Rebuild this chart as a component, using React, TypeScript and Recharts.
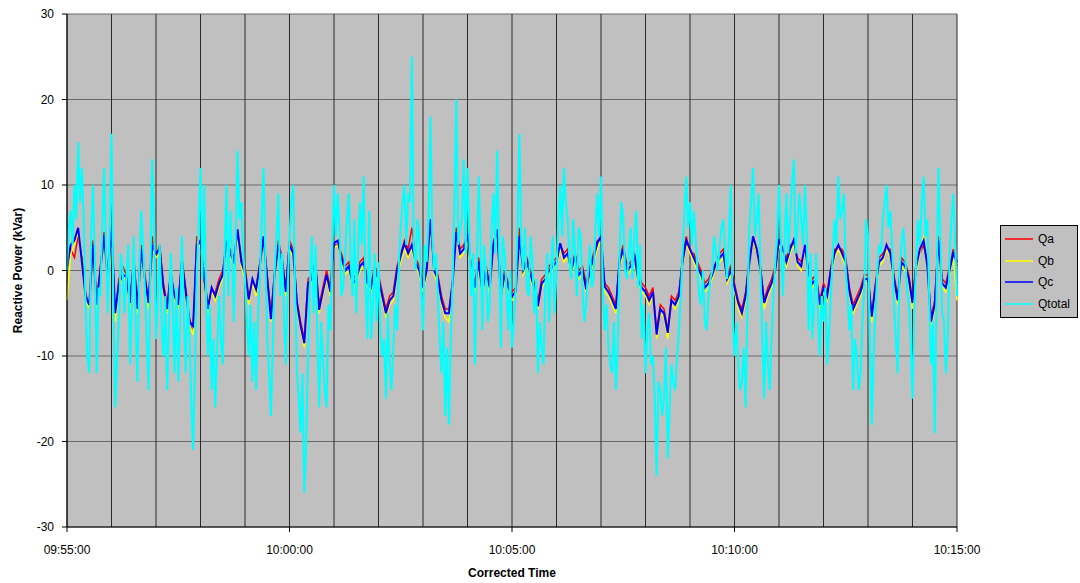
import { LineChart, Line, XAxis, YAxis, CartesianGrid, Label } from 'recharts';

// phase samples every 5 s from 09:55:00 to 10:15:00 (one row = one minute)
const SAMPLE_SEC = 5;

const qTotal = [
  0, 7, 10, 15, 12, -4, -12, 10, -12, -3, 12, -5,
  16, -16, -6, 0, -1, -11, 4, -13, 7, -2, -14, 13,
  -8, 3, -10, -14, 2, -12, -13, 4, -12, -7, -21, 0,
  12, 10, -10, -14, -16, -3, -11, 10, 7, -6, 14, 8,
  -1, -10, -13, -14, -1, 12, -8, -17, 0, 9, 2, -11,
  4, 10, -12, -19, -26, -10, 4, 3, -16, -10, -16, -7,
  10, 9, -3, 2, 9, -3, -5, 8, 11, -8, -8, 2,
  1, -10, -15, -11, -9, -7, 5, 10, 9, 25, 0, 4,
  -7, 1, 18, 0, -3, -12, -17, -18, -1, 20, 5, 13,
  12, -3, -11, 11, -7, 0, -4, 9, 14, -9, 2, -7,
  -9, -2, 16, 0, -2, 4, -5, -12, -9, -2, -6, 4,
  0, 10, 12, 6, -1, 2, 5, -2, -4, 3, -1, 9,
  11, -7, -9, -12, -14, 2, 6, -1, 5, 4, -2, -8,
  -12, -5, -10, -24, -14, -15, -22, -11, -14, -7, 2, 11,
  8, 7, 0, -4, -6, -3, 0, 2, 3, 6, -1, 10,
  -10, -11, -13, -16, 5, 12, 6, 0, -15, -11, -8, 1,
  10, -3, 9, 6, 13, 5, 6, 10, -7, -8, 2, -10,
  -6, -11, -3, 6, 11, 7, 0, -7, -14, -10, -12, -2,
  4, -18, -5, 3, 6, 10, 7, -4, -12, 3, 2, -4,
  -15, 1, 3, 11, 6, -11, -19, 12, -5, -12, 2, 9,
  -3,
];

// Qtotal readings half-way between the 5 s samples (t = 2.5, 7.5, ...)
const qTotalMid = [
  5, 3, 6, 8, 6, -10, 4, 2, -2, 5, 3, 4,
  -4, -10, 2, -5, 3, -4, -6, 0, 3, -8, 0, 5,
  -3, -6, -3, -6, -4, -2, -6, -5, -3, -15, -12, 5,
  -1, -3, -4, -8, -9, -8, 2, -3, 3, 4, 6, 2,
  -6, -4, -6, -5, 6, 1, -12, -9, 4, -3, -5, -2,
  8, -2, -15, -12, -20, -2, -5, -8, -6, -14, -4, 2,
  4, 5, -2, 6, 1, 6, 2, 3, -2, 7, -4, -6,
  -7, -8, -5, -14, -4, 1, 8, 3, 8, 3, 6, -2,
  3, 6, 4, 2, -8, -6, -9, -8, 8, 3, 6, 2,
  4, 2, 0, 4, 3, -6, 5, 2, 3, 4, -2, 0,
  -6, 5, 3, 5, -3, 1, -1, -6, -11, 2, 0, -5,
  6, 4, 8, 1, 6, -3, 4, -6, 0, -2, 5, 4,
  -2, -4, -11, -6, -9, 8, 0, 2, -1, 7, 3, -4,
  -7, -11, -15, -13, -17, -9, -16, -13, -10, -3, 7, 5,
  3, 4, -3, 0, -7, -1, 4, 0, 5, 2, 4, -5,
  -6, -14, -9, -4, 8, 4, 9, -8, -6, -14, -3, 4,
  4, 3, 2, 10, 2, 9, 3, 4, 2, -4, -5, -3,
  -2, -7, 2, 3, 6, 9, -3, -4, -8, -14, -6, 6,
  -8, -10, 0, 2, 8, 5, 3, -8, 0, 5, -2, -8,
  -4, 6, 8, 4, -3, -6, -2, 4, -6, -8, 6, 3,
];

const qc = [
  0.5, 3, 3.5, 5, 1, -3, -4, 3, -4, 0, 4, -1,
  5, -5, -1.5, -0.5, -0.7, -3.8, 1, -4.5, 2.5, -1, -3.8, 3,
  2, 2.5, -2, -4.5, -0.5, -3, -4, 1, -2.5, -6, -6.5, 3,
  3.5, -1, -4.5, -2, -3, -1.5, -0.5, 3.5, 2, 1, 4.8, 1,
  -0.3, -3.4, -1, -2.2, 0.5, 4, -1, -5.7, -0.5, 3, 1, -2.5,
  3, 2, -3.8, -6.5, -8.5, -1.5, -1, 0.5, -4.6, -2.5, -0.5, -2.5,
  3.2, 3.5, 1.5, 0, 0.5, -1.5, -1, 0.5, 1, -1.5, -2, 0,
  -1, -3, -5, -3.5, -3, 0, 1.7, 3.2, 2, 3, 1, 0,
  -2, 0, 6, 0, -1, -3.5, -5, -5, -1.5, 4.5, 2, 2.5,
  4.4, 0, -2, 1, -2.5, 0, -2, 3, 4.8, -3, -0.5, -2,
  -3, -2.5, 4, 0, 1, -0.5, -2, -4.2, -1.5, -1, 0, 0.5,
  1, 3.2, 1.5, 2, 0, 1.7, -0.5, 0, -2.2, 0, 1.5, 3.2,
  4, -1.9, -2.5, -3.4, -4.5, 1, 2.5, 0, 0.5, 1.7, -1, -2,
  -2.5, -3.5, -2.5, -7.5, -4.5, -5, -7.3, -3.5, -4, -3, 1, 3.5,
  2.5, 1.5, 0.5, -0.5, -2, -1.5, -0.5, 0.8, 1.5, 2, -1, 0,
  -2, -3.8, -5, -3, 0.8, 4, 2.5, 0, -3.8, -2.5, -1.5, 0,
  3.6, 2.5, 1, 2.5, 3.6, 1, 0.5, 3, -0.5, -1.5, -1, -4,
  -2, -3, 0, 2, 3, 2, 1, -2.5, -4.5, -3.5, -2.5, -1,
  -1, -5.4, -2, 1, 1.5, 3, 2, -1, -3.5, 1, 0.5, -1,
  -3.8, 0.5, 2.5, 3.5, 0.5, -6, -4, 3.5, -1.5, -2, 0, 2,
  1,
];

const qa = [
  0, 2.5, 1.5, 4, 1.5, -2.5, -4.5, 3.5, -3.5, 0.5, 4.5, -0.5,
  4.5, -5.5, -1, 0.5, -0.5, -3.5, 1.5, -4, 3, -0.5, -3.5, 4,
  1.5, 3, -1.5, -4, 0, -3.5, -3.5, 1.5, -2, -5.5, -7, 4,
  3, -0.5, -4, -2.5, -2.5, -1, 0, 3, 2.5, 1.5, 4.5, 1.5,
  0.5, -3, -1.5, -2, 1, 3.5, -0.5, -5, 0, 3.5, 1.5, -2,
  3.5, 2.5, -3.5, -6, -8, -1, -0.5, 1, -4, -2, 0, -2,
  3, 3, 2, 0.5, 1, -1, -0.5, 1, 1.5, -1, -1.5, 0.5,
  -0.5, -2.5, -4.5, -3, -2.5, 0.5, 2, 3.5, 2.5, 5, 1.5, 0.5,
  -1.5, 0.5, 5.5, 0.5, -0.5, -3, -4.5, -4.5, -1, 5, 2.5, 3,
  4, 0.5, -1.5, 1.5, -2, 0.5, -1.5, 3.5, 4.5, -2.5, 0, -1.5,
  -2.5, -2, 5, 0.5, 1.5, 0, -1.5, -3.5, -1, -0.5, 0.5, 1,
  1.5, 3, 2, 2.5, 0.5, 2, 0, 0.5, -1.5, 0.5, 2, 3.5,
  3.5, -1.5, -2, -3, -4, 1.5, 3, 0.5, 1, 2, 0, -1.5,
  -2, -3, -2, -7, -4, -4.5, -7, -3, -3.5, -2.5, 1.5, 4,
  2, 2, 1, 0, -1.5, -1, 0, 1, 2, 2.5, -0.5, 0.5,
  -1.5, -3.5, -4.5, -2.5, 1.5, 3.5, 2, 0.5, -3.5, -2, -1, 0.5,
  3, 2, 1.5, 3, 3, 1.5, 1, 2.5, 0, -1, -0.5, -3.5,
  -1.5, -2.5, 0.5, 2.5, 2.5, 2.5, 1.5, -2, -4, -3, -2, -0.5,
  -0.5, -5, -1.5, 1.5, 2, 2.5, 2.5, -0.5, -3, 1.5, 1, -0.5,
  -3.5, 1, 2, 3, 1, -5.5, -3.5, 4, -1, -1.5, 0.5, 2.5,
  0.5,
];

const qb = [
  -3.5, 2, 3, 4.5, 0.5, -3.5, -4.5, 2.5, -4.5, -0.5, 3.5, -1.5,
  4, -6, -2, -1, -1, -4.5, 0.5, -5, 2, -1.5, -4.5, 2.5,
  1.5, 2, -2.5, -5, -1, -3.5, -4.5, 0.5, -3, -6.5, -7.5, 2.5,
  3, -1.5, -5, -2.5, -3.5, -2, -1, 3, 1.5, 0.5, 4, 0.5,
  -1, -4, -1.5, -3, 0, 3.5, -1.5, -6, -1, 2.5, 0.5, -3,
  2.5, 1.5, -4.5, -7, -9, -2, -1.5, 0, -5, -3, -1, -3,
  2.5, 3, 1, -0.5, 0, -2, -1.5, 0, 0.5, -2, -2.5, -0.5,
  -1.5, -3.5, -5.5, -4, -3.5, -0.5, 1, 2.5, 1.5, 2.5, 0.5, -0.5,
  -2.5, -0.5, 5, -0.5, -1.5, -4, -5.5, -6, -2, 4, 1.5, 2,
  3.5, -0.5, -2.5, 0.5, -3, -0.5, -2.5, 2.5, 4, -3.5, -1, -2.5,
  -3.5, -3, 3.5, -0.5, 0.5, -1, -2.5, -4.5, -2, -1.5, -0.5, 0,
  0.5, 2.5, 1, 1.5, -0.5, 1, -1, -0.5, -2.5, -0.5, 1, 2.5,
  3.5, -2.5, -3, -4, -5, 0.5, 2, -0.5, 0, 1, -1.5, -2.5,
  -3, -4, -3, -8, -5, -5.5, -8, -4, -4.5, -3.5, 0.5, 3,
  2, 1, 0, -1, -2.5, -2, -1, 0.5, 1, 1.5, -1.5, -0.5,
  -2.5, -4.5, -5.5, -3.5, 0.5, 3.5, 2, -0.5, -4.5, -3, -2, -0.5,
  3, 2, 0.5, 2, 3, 0.5, 0, 2.5, -1, -2, -1.5, -4.5,
  -2.5, -3.5, -0.5, 1.5, 2.5, 1.5, 0.5, -3, -5, -4, -3, -1.5,
  -1.5, -6, -2.5, 0.5, 1, 2.5, 1.5, -1.5, -4, 0.5, 0, -1.5,
  -4.5, 0, 2, 4, 0, -6.5, -4.5, 3, -2, -2.5, -0.5, 1.5,
  -3.5,
];

// gridline every minute, labels every 5 minutes
const minuteTicks = [0, 60, 120, 180, 240, 300, 360, 420, 480, 540, 600, 660, 720, 780, 840, 900, 960, 1020, 1080, 1140, 1200];
const labelTicks = [0, 300, 600, 900, 1200];
const timeLabels = ['09:55:00', '10:00:00', '10:05:00', '10:10:00', '10:15:00'];
const yTicks = [-30, -20, -10, 0, 10, 20, 30];

const series = [
  { key: 'qa', name: 'Qa', color: '#FF0000', width: 1.5 },
  { key: 'qb', name: 'Qb', color: '#FFFF00', width: 1.5 },
  { key: 'qc', name: 'Qc', color: '#0000FF', width: 2 },
  { key: 'qtotal', name: 'Qtotal', color: '#00FFFF', width: 2 },
];

// rows every 2.5 s; the phases only have values on the 5 s rows
const data: any[] = [];
qTotal.forEach((v, i) => {
  data.push({ t: i * SAMPLE_SEC, qa: qa[i], qb: qb[i], qc: qc[i], qtotal: v });
  if (i < qTotalMid.length) data.push({ t: i * SAMPLE_SEC + SAMPLE_SEC / 2, qtotal: qTotalMid[i] });
});

const FONT = '"Liberation Sans", Arial, sans-serif';

const TimeTick = (props: any) => {
  const { x, y, payload } = props;
  const idx = labelTicks.indexOf(payload.value);
  if (idx < 0) return <g />;
  return (
    <g>
      <line x1={x} y1={y} x2={x} y2={y + 5} stroke="#000" />
      <text x={x} y={y + 27} textAnchor="middle" fontSize={12} fill="#000" fontFamily={FONT}>
        {timeLabels[idx]}
      </text>
    </g>
  );
};

// legend box to the right of the plot
const LegendBox = () => (
  <div
    style={{
      position: 'absolute',
      left: 1000,
      top: 225,
      width: 76,
      height: 89,
      background: '#C0C0C0',
      border: '1px solid #000',
      fontFamily: FONT,
      fontSize: 12,
      color: '#000',
      paddingTop: 2,
    }}
  >
    {series.map((s) => (
      <div key={s.key} style={{ display: 'flex', alignItems: 'center', height: 21.7 }}>
        <svg width={33} height={4} style={{ marginLeft: 4 }}>
          <line x1={0} y1={2} x2={28} y2={2} stroke={s.color} strokeWidth={1.5} />
        </svg>
        <span>{s.name}</span>
      </div>
    ))}
  </div>
);

export default function App() {
  return (
    <div style={{ position: 'absolute', left: 0, top: 0, width: 1080, height: 583, background: '#fff' }}>
      <LineChart width={1080} height={583} data={data} margin={{ top: 14, right: 123, bottom: 26, left: 27 }}>
        <CartesianGrid fill="#C0C0C0" stroke="#6a6a6a" vertical={false} />
        <CartesianGrid stroke="#2a2a2a" horizontal={false} />
        <XAxis
          dataKey="t"
          type="number"
          domain={[0, 1200]}
          ticks={minuteTicks}
          interval={0}
          height={30}
          tickSize={0}
          tickMargin={0}
          tick={<TimeTick />}
          axisLine={{ stroke: '#000' }}
        >
          <Label value="Corrected Time" position="bottom" offset={11} style={{ fontFamily: FONT, fontSize: 12, fontWeight: 'bold', fill: '#000' }} />
        </XAxis>
        <YAxis
          type="number"
          domain={[-30, 30]}
          ticks={yTicks}
          interval={0}
          width={40}
          tickSize={5}
          tickMargin={8}
          tick={{ fontSize: 12, fill: '#000', fontFamily: FONT }}
          tickLine={{ stroke: '#000' }}
          axisLine={{ stroke: '#000' }}
        >
          <Label
            value="Reactive Power (kVar)"
            angle={-90}
            position="center"
            dx={-29}
            style={{ fontFamily: FONT, fontSize: 12, fontWeight: 'bold', fill: '#000', textAnchor: 'middle' }}
          />
        </YAxis>
        {series.map((s) => (
          <Line
            key={s.key}
            type="linear"
            dataKey={s.key}
            name={s.name}
            stroke={s.color}
            strokeWidth={s.width}
            dot={false}
            connectNulls
            isAnimationActive={false}
          />
        ))}
      </LineChart>
      <LegendBox />
    </div>
  );
}
